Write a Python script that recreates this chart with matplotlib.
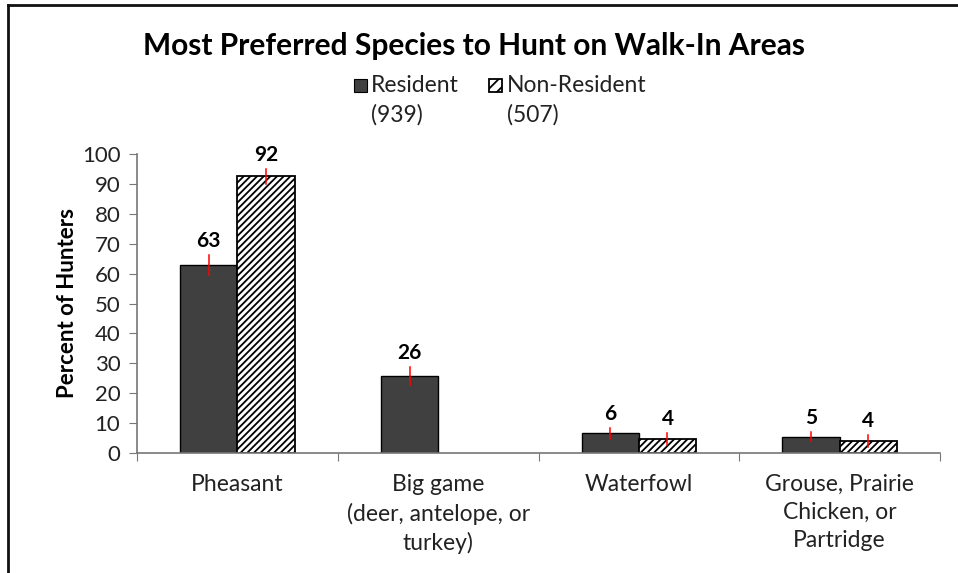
import matplotlib
matplotlib.use("Agg")
import matplotlib.pyplot as plt
import numpy as np
from matplotlib.patches import Rectangle
from matplotlib.lines import Line2D

plt.rcParams['font.family'] = ['Lato', 'DejaVu Sans']
plt.rcParams['hatch.linewidth'] = 1.3

categories = ["Pheasant", "Big game\n(deer, antelope, or\nturkey)", "Waterfowl",
              "Grouse, Prairie\nChicken, or\nPartridge"]
resident = [62.8, 25.8, 6.6, 5.4]
nonresident = [92.6, 0.0, 4.6, 3.9]
resident_err = [3.3, 3.0, 1.8, 1.5]
nonresident_err = [2.5, 0.0, 2.0, 2.0]
resident_labels = ["63", "26", "6", "5"]
nonresident_labels = ["92", "", "4", "4"]
series_names = ["Resident\n(939)", "Non-Resident\n(507)"]
yticks = list(range(0, 101, 10))

W, H = 958, 573
fig = plt.figure(figsize=(W / 100, H / 100), dpi=100)
ax = fig.add_axes([137 / W, 1 - 453 / H, (940 - 137) / W, (453 - 154) / H])

x = np.arange(len(categories))
bw = 0.285
dark = "#404040"
ax.bar(x - bw / 2, resident, bw, color=dark, edgecolor="black", linewidth=1.0, zorder=2)
nr_mask = [v > 0 for v in nonresident]
ax.bar((x + bw / 2)[nr_mask], np.array(nonresident)[nr_mask], bw, color="white",
       edgecolor="black", linewidth=1.3, hatch="/////", zorder=2)

for xi, v, e, lab in zip(x - bw / 2, resident, resident_err, resident_labels):
    if lab:
        ax.plot([xi, xi], [v - e, v + e], color="red", lw=1.1, zorder=3)
        ax.text(xi, v + e + 1.3, lab, ha="center", va="bottom", fontsize=15,
                fontweight="bold")
for xi, v, e, lab in zip(x + bw / 2, nonresident, nonresident_err, nonresident_labels):
    if lab:
        ax.plot([xi, xi], [v - e, v + e], color="red", lw=1.1, zorder=3)
        ax.text(xi, v + e + 1.3, lab, ha="center", va="bottom", fontsize=15,
                fontweight="bold")

ax.set_xlim(-0.5, len(categories) - 0.5)
ax.set_ylim(0, 100)
ax.set_yticks(yticks)
ax.set_yticklabels([str(t) for t in yticks], fontsize=16, color="#222222")
ax.set_xticks(np.arange(-0.5, len(categories)), minor=False)
ax.set_xticklabels([])
ax.set_xticks(x, minor=True)
ax.set_xticklabels(categories, minor=True, fontsize=16.5, linespacing=1.42, color="#222222")
ax.tick_params(axis="x", which="major", length=6, direction="out", color="#777777")
ax.tick_params(axis="x", which="minor", length=0, pad=15)
ax.tick_params(axis="y", length=6, direction="out", color="#777777", pad=6)
for s in ["top", "right"]:
    ax.spines[s].set_visible(False)
ax.spines["left"].set_color("#777777")
ax.spines["bottom"].set_color("#777777")
ax.spines["left"].set_linewidth(1.2)
ax.spines["bottom"].set_linewidth(1.2)
ax.set_ylabel("Percent of Hunters", fontsize=16, fontweight="bold", labelpad=3)

fig.text(474 / W, 1 - 46 / H, "Most Preferred Species to Hunt on Walk-In Areas",
         ha="center", va="center", fontsize=21.5, fontweight="bold")

# legend
fig.patches.append(Rectangle((354 / W, 1 - 92 / H), 13 / W, 13 / H, transform=fig.transFigure,
                             facecolor=dark, edgecolor="black", lw=0.8))
fig.text(371 / W, 1 - 122 / H, series_names[0], ha="left", va="baseline", fontsize=16.5,
         linespacing=1.5, color="#222222")
fig.patches.append(Rectangle((489 / W, 1 - 92 / H), 13 / W, 13 / H, transform=fig.transFigure,
                             facecolor="white", edgecolor="black", lw=1.3, hatch="///"))
fig.text(507 / W, 1 - 122 / H, series_names[1], ha="left", va="baseline", fontsize=16.5,
         linespacing=1.5, color="#222222")

# outer frame (top and left edges)
fig.add_artist(Line2D([8 / W, 8 / W], [0, 1 - 5 / H], transform=fig.transFigure,
                      color="#111111", lw=2))
fig.add_artist(Line2D([8 / W, 1], [1 - 5 / H, 1 - 5 / H], transform=fig.transFigure,
                      color="#111111", lw=2))

fig.savefig("out.png", dpi=100)
